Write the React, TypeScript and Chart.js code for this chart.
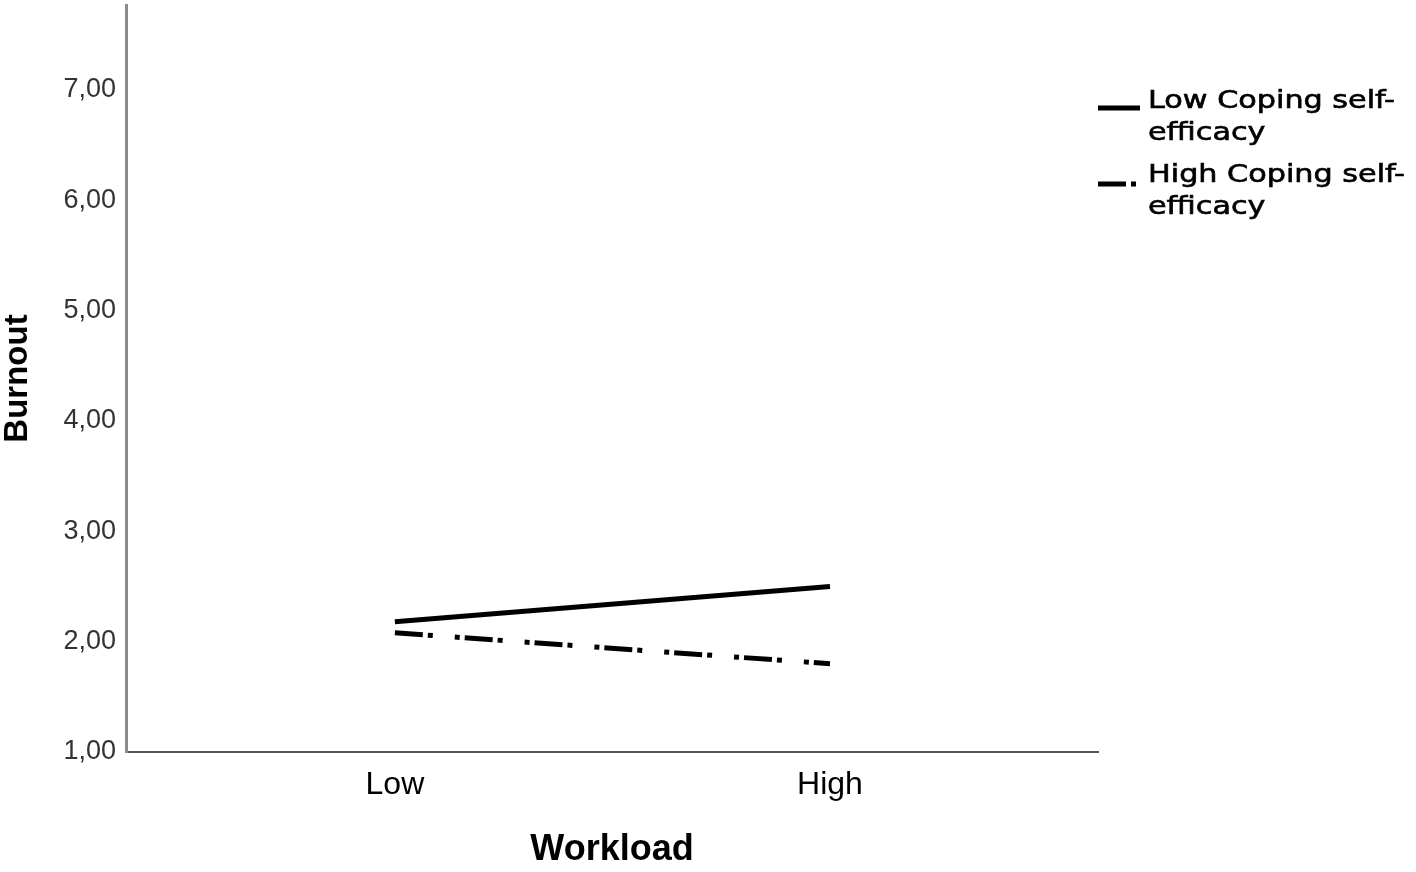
import React, { useEffect, useRef } from 'react';
import { Chart, registerables } from 'chart.js';

Chart.register(...registerables);

const CATEGORIES = ['Low', 'High'];
const LOW_COPING = [2.18, 2.5];
const HIGH_COPING = [2.08, 1.8];
const Y_TICKS = [1, 2, 3, 4, 5, 6, 7];
const SERIES_LABELS = [
  ['Low Coping self-', 'efficacy'],
  ['High Coping self-', 'efficacy'],
];
const Y_TITLE = 'Burnout';
const X_TITLE = 'Workload';
const DASH_DOT = [28, 5, 5, 22, 5, 5];

const toPoints = (vals: number[]) => vals.map((v, i) => ({ x: i, y: v }));

const sideLegend = {
  id: 'sideLegend',
  afterDraw(chart: any) {
    const ctx = chart.ctx;
    const area = chart.chartArea;
    const x0 = area.right;
    const firstBaseline = area.top + 103;
    const itemGap = 74;
    const lineGap = 32;
    chart.data.datasets.forEach((ds: any, i: number) => {
      const by = firstBaseline + i * itemGap;
      ctx.save();
      ctx.strokeStyle = ds.borderColor;
      ctx.lineWidth = ds.borderWidth;
      ctx.lineCap = 'butt';
      ctx.setLineDash(ds.borderDash || []);
      ctx.beginPath();
      const ly = by + (i === 0 ? 0 : 2);
      ctx.moveTo(x0, ly);
      ctx.lineTo(x0 + (ds.borderDash && ds.borderDash.length ? 38 : 42), ly);
      ctx.stroke();
      ctx.restore();
      const lines: string[] = ds.legendLines;
      lines.forEach((t, k) => {
        ctx.save();
        ctx.font = '24px "DejaVu Sans"';
        ctx.fillStyle = '#000';
        ctx.strokeStyle = '#000';
        ctx.lineWidth = 0.6;
        ctx.textBaseline = 'alphabetic';
        ctx.textAlign = 'left';
        ctx.translate(x0 + 50, by + k * lineGap);
        ctx.scale(1.26, 1);
        ctx.fillText(t, 0, 0);
        ctx.strokeText(t, 0, 0);
        ctx.restore();
      });
    });
  },
};

export default function App() {
  const ref = useRef<HTMLCanvasElement>(null);
  useEffect(() => {
    if (!ref.current) return;
    const chart = new Chart(ref.current, {
      type: 'line',
      data: {
        datasets: [
          {
            label: SERIES_LABELS[0].join(''),
            legendLines: SERIES_LABELS[0],
            data: toPoints(LOW_COPING),
            borderColor: '#000',
            borderWidth: 5,
            pointRadius: 0,
            fill: false,
            tension: 0,
          } as any,
          {
            label: SERIES_LABELS[1].join(''),
            legendLines: SERIES_LABELS[1],
            data: toPoints(HIGH_COPING),
            borderColor: '#000',
            borderWidth: 5,
            borderDash: DASH_DOT,
            borderCapStyle: 'butt',
            pointRadius: 0,
            fill: false,
            tension: 0,
          } as any,
        ],
      },
      options: {
        animation: false,
        responsive: true,
        maintainAspectRatio: false,
        layout: { padding: { top: 5, right: 318, left: 0, bottom: 0 } },
        plugins: {
          legend: { display: false },
          tooltip: { enabled: false },
        },
        scales: {
          x: {
            type: 'linear',
            min: -0.618,
            max: 1.616,
            afterBuildTicks: (s: any) => {
              s.ticks = CATEGORIES.map((_, i) => ({ value: i }));
            },
            afterFit: (s: any) => {
              s.height = 120;
              s.paddingLeft = 0;
              s.paddingRight = 0;
            },
            grid: { display: false, drawTicks: false },
            border: { display: true, color: '#555', width: 2 },
            ticks: {
              padding: 14,
              color: '#000',
              font: { family: '"Liberation Sans", Arial, sans-serif', size: 32 },
              callback: (v: any) => CATEGORIES[v] ?? '',
              maxRotation: 0,
            },
            title: {
              display: true,
              text: X_TITLE,
              color: '#000',
              font: { family: '"Liberation Sans", Arial, sans-serif', size: 36, weight: 'bold' },
              padding: { top: 0, bottom: 0 },
            },
          },
          y: {
            type: 'linear',
            min: 1,
            max: 7.77,
            afterBuildTicks: (s: any) => {
              s.ticks = Y_TICKS.map((v) => ({ value: v }));
            },
            afterFit: (s: any) => {
              s.width = 126;
              s.paddingTop = 0;
              s.paddingBottom = 0;
            },
            grid: { display: false, drawTicks: false },
            border: { display: true, color: '#8c8c8c', width: 3 },
            ticks: {
              padding: 10,
              color: '#333',
              font: { family: '"Liberation Sans", Arial, sans-serif', size: 27 },
              callback: (v: any) => Number(v).toFixed(2).replace('.', ','),
            },
            title: {
              display: true,
              text: Y_TITLE,
              color: '#000',
              font: { family: '"Liberation Sans", Arial, sans-serif', size: 33, weight: 'bold', lineHeight: 1.1 },
              padding: { top: 0, bottom: 0 },
            },
          },
        },
      },
      plugins: [sideLegend],
    });
    return () => chart.destroy();
  }, []);
  return (
    <div style={{ position: 'absolute', left: 0, top: 0, width: 1416, height: 872, background: '#fff' }}>
      <canvas ref={ref} />
    </div>
  );
}
